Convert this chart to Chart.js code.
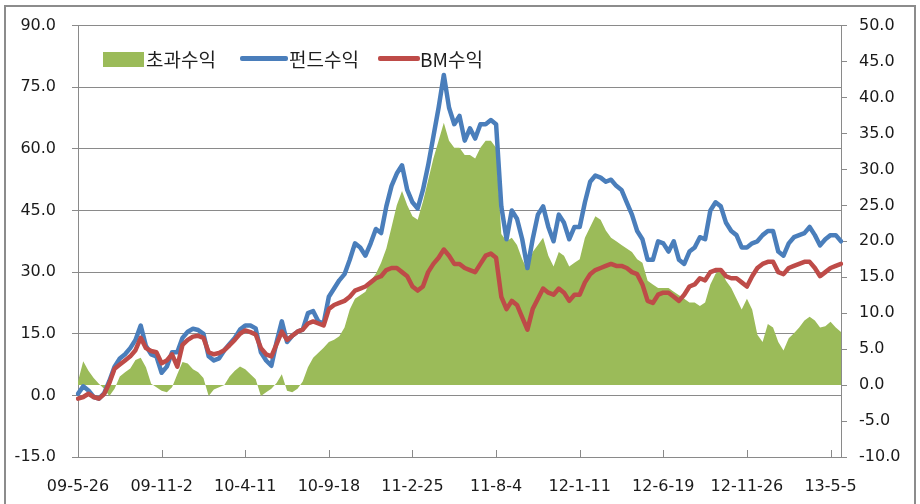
<!DOCTYPE html>
<html>
<head>
<meta charset="utf-8">
<script src="https://cdn.jsdelivr.net/npm/chart.js@4.4.1/dist/chart.umd.min.js"></script>
<style>
  html, body { margin: 0; padding: 0; background: #ffffff; }
  #wrap { position: relative; width: 920px; height: 504px; overflow: hidden; background: #ffffff; }
  #c { position: absolute; left: 0; top: 0; }
  #frame { position: absolute; left: 4px; top: 5px; width: 912px; height: 530px; box-sizing: border-box;
           border: 2px solid #8c8c8c; pointer-events: none; }
  .lg { position: absolute; font-family: "Noto Sans CJK KR", "Noto Sans", sans-serif; font-size: 19px;
        color: #1e1e1e; line-height: 20px; top: 49px; white-space: nowrap; }
  .sw { position: absolute; }
</style>
</head>
<body>
<div id="wrap">
  <canvas id="c" width="920" height="504"></canvas>
  <div class="sw" style="left:103px;top:52px;width:41px;height:15px;background:#9BBB59;"></div>
  <div class="lg" style="left:146px;">초과수익</div>
  <div class="sw" style="left:240px;top:56px;width:48px;height:5px;background:#4A7EBB;border-radius:2px;"></div>
  <div class="lg" style="left:289px;">펀드수익</div>
  <div class="sw" style="left:378px;top:56px;width:42px;height:5px;background:#BE4B48;border-radius:2px;"></div>
  <div class="lg" style="left:420px;">BM수익</div>
  <div id="frame"></div>
</div>
<script>
// ---- data ----
const tickLabels = ['09-5-26', '09-11-2', '10-4-11', '10-9-18', '11-2-25', '11-8-4', '12-1-11', '12-6-19', '12-11-26', '13-5-5'];

const fundReturn = [
  0.4, 2.2, 1.2, -0.4, -0.8, 0.5, 3.5, 7, 9, 10,
  11.5, 13.5, 17, 12, 10, 9.5, 5.5, 7, 10.5, 10.5,
  14, 15.5, 16.2, 15.9, 15, 9.5, 8.5, 9, 11, 12.5,
  14, 16, 17, 17, 16.3, 10.5, 8.5, 7.2, 13, 18,
  13, 14.5, 15.5, 16, 20, 20.5, 18, 17.5, 24, 26,
  28, 29.5, 33, 37, 36, 34, 37, 40.5, 39.5, 46,
  51, 54, 56, 50, 47, 45.5, 50, 56, 63, 70,
  78, 70, 66, 68, 62, 65, 62.5, 66, 66, 67,
  66, 46, 38, 45, 43, 38, 31, 38, 44, 46,
  41, 37.5, 44, 42, 38, 41, 41, 47, 52, 53.5,
  53, 52, 52.5, 51, 50, 47, 44, 40, 38, 33,
  33, 37.5, 37, 35, 37.5, 33, 32, 35, 36, 38.5,
  38, 45, 47, 46, 42, 40, 39, 36, 36, 37,
  37.5, 39, 40, 40, 35, 34, 37, 38.5, 39, 39.5,
  41, 39, 36.5, 38, 39, 39, 37.5
];

const bmReturn = [
  -0.8, -0.4, 0.4, -0.4, -0.8, 0.3, 3, 6.5, 7.5, 8.5,
  9.5, 11, 14, 11.5, 10.8, 10.5, 7.8, 8.5, 10, 7,
  12.3, 13.5, 14.3, 14.5, 14, 10.5, 10, 10.3, 11, 12.2,
  13.5, 15, 15.8, 15.4, 14.8, 11.5, 10, 9.5, 12.5, 15.5,
  13.5, 14.5, 15.5, 16, 17.5, 18, 17.5, 17, 21, 22,
  22.5, 23, 24, 25.5, 26, 26.5, 27.5, 28.5, 29, 30.5,
  31, 31, 30, 29, 26.5, 25.5, 26.5, 30, 32, 33.5,
  35.5, 34, 32, 32, 31, 30.5, 30, 32, 34, 34.5,
  33.5, 24, 21, 23, 22, 19, 16, 21, 23.5, 26,
  25, 24.5, 26, 25, 23, 24.5, 24.5, 27.5, 29.5, 30.5,
  31, 31.5, 32, 31.5, 31.5, 31, 30, 29.5, 27, 23,
  22.5, 24.5, 25, 25, 24, 23, 24.5, 26.5, 27, 28.5,
  28, 30, 30.5, 30.5, 29, 28.5, 28.5, 27.5, 26.5, 29,
  31, 32, 32.5, 32.5, 30, 29.5, 31, 31.5, 32, 32.5,
  32.5, 31, 29, 30, 31, 31.5, 32
];

const excessReturn = [
  0.5, 3.3, 2.0, 1.0, 0.2, -0.5, -1.5, -0.5, 1.2, 1.8,
  2.3, 3.5, 3.8, 2.5, 0.2, -0.3, -0.8, -1.0, -0.3, 1.5,
  3.2, 3.0, 2.2, 1.8, 1.0, -1.5, -0.6, -0.3, 0.0, 1.2,
  2.0, 2.6, 2.2, 1.5, 0.8, -1.5, -1.0, -0.5, 0.3, 1.5,
  -0.8, -1.0, -0.5, 0.5, 2.5, 3.8, 4.5, 5.2, 6.0, 6.3,
  6.8, 8.0, 10.5, 12, 12.5, 13, 14.5, 15.5, 17, 19,
  22, 25, 27, 25, 23.5, 23, 25.5, 28.5, 31.5, 34,
  36.5, 34, 33, 33, 32, 32, 31.5, 33, 34, 34,
  33, 21, 20, 20.5, 19.5, 17.5, 16, 18.5, 19.5, 20.5,
  18, 16.5, 18.5, 18, 16.5, 17, 17.5, 20.5, 22, 23.5,
  23, 21.5, 20.5, 20, 19.5, 19, 18.5, 17.5, 17, 14.5,
  14, 13.5, 13.5, 13.5, 13, 12.5, 12, 11.5, 11.5, 11,
  11.5, 14, 15.5, 16, 14.5, 13.5, 12, 10.5, 12, 10.5,
  7, 6, 8.5, 8, 6, 4.8, 6.5, 7.2, 8, 9,
  9.5, 9, 8, 8.2, 8.8, 8, 7.4
];

const labelEvery = 16;
const categories = fundReturn.map((_, i) => (i % labelEvery === 0 ? tickLabels[i / labelEvery] : ''));

// ---- styling ----
const gridColor = '#8a8a8a';
const textColor = '#1a1a1a';
const tickFont = { family: 'DejaVu Sans', size: 16 };

const xTickMarks = {
  id: 'xTickMarks',
  afterDraw(chart) {
    const s = chart.scales.x;
    const ctx = chart.ctx;
    ctx.save();
    ctx.strokeStyle = gridColor;
    ctx.lineWidth = 1;
    s.ticks.forEach((t, i) => {
      if (i % labelEvery !== 0) return;
      const x = Math.round(s.getPixelForTick(i)) + 0.5;
      ctx.beginPath();
      ctx.moveTo(x, s.top);
      ctx.lineTo(x, s.top - 7);
      ctx.stroke();
    });
    ctx.restore();
  }
};

new Chart(document.getElementById('c'), {
  type: 'line',
  data: {
    labels: categories,
    datasets: [
      {
        label: 'BM수익', data: bmReturn, yAxisID: 'y',
        borderColor: '#BE4B48', borderWidth: 4.5, pointRadius: 0, tension: 0,
        borderJoinStyle: 'round', borderCapStyle: 'round', fill: false, order: 0
      },
      {
        label: '펀드수익', data: fundReturn, yAxisID: 'y',
        borderColor: '#4A7EBB', borderWidth: 4.5, pointRadius: 0, tension: 0,
        borderJoinStyle: 'round', borderCapStyle: 'round', fill: false, order: 1
      },
      {
        label: '초과수익', data: excessReturn, yAxisID: 'y1',
        borderColor: '#9BBB59', backgroundColor: '#9BBB59', borderWidth: 0, pointRadius: 0,
        tension: 0, fill: 'origin', order: 2
      }
    ]
  },
  options: {
    responsive: false,
    animation: false,
    devicePixelRatio: 1,
    layout: { padding: { top: 23, left: 0, right: 0, bottom: 0 } },
    plugins: { legend: { display: false }, tooltip: { enabled: false } },
    scales: {
      x: {
        type: 'category',
        offset: false,
        grid: { display: false },
        border: { display: true, color: gridColor, width: 1 },
        ticks: { autoSkip: false, maxRotation: 0, minRotation: 0, color: textColor, font: tickFont, padding: 12 },
        afterFit(scale) { scale.height = 47; }
      },
      y: {
        position: 'left',
        min: -15, max: 90,
        grid: { color: gridColor, lineWidth: 1, drawTicks: true, tickLength: 6 },
        border: { display: true, color: gridColor, width: 1 },
        ticks: { stepSize: 15, color: textColor, font: tickFont, padding: 16,
                 callback: (v) => Number(v).toFixed(1) },
        afterFit(scale) { scale.width = 78; }
      },
      y1: {
        position: 'right',
        min: -10, max: 50,
        grid: { drawOnChartArea: false, color: gridColor, lineWidth: 1, drawTicks: true, tickLength: 6 },
        border: { display: true, color: gridColor, width: 1 },
        ticks: { stepSize: 5, color: textColor, font: tickFont, padding: 12,
                 callback: (v) => Number(v).toFixed(1) },
        afterFit(scale) { scale.width = 79; }
      }
    }
  },
  plugins: [xTickMarks]
});
</script>
</body>
</html>
